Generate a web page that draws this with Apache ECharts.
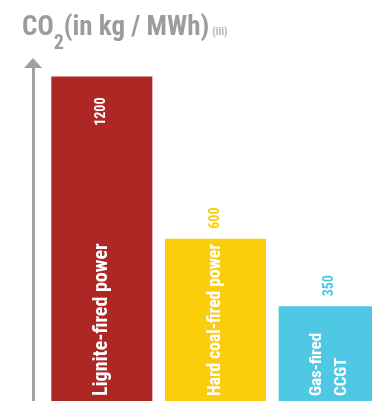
<!DOCTYPE html>
<html>
<head>
<meta charset="utf-8">
<script src="https://cdn.jsdelivr.net/npm/echarts@6/dist/echarts.min.js"></script>
<style>
html,body{margin:0;padding:0;background:#fff;}
#chart{width:372px;height:401px;}
</style>
</head>
<body>
<div id="chart"></div>
<script>
const categories = ['Lignite-fired power', 'Hard coal-fired power', 'Gas-fired\nCCGT'];
const values = [1200, 600, 350];

// styles
const barColors = ['#ad2724', '#fbce0b', '#4fc8e4'];
const nameFontSizes = [20, 17.5, 17];
const FONT = 'Roboto, "Roboto Condensed", sans-serif';
const WEIGHT = 'condensed bold';
const GREY = '#9b9c9e';

const chart = echarts.init(document.getElementById('chart'), null, {renderer: 'canvas'});

const barData = values.map((v, i) => ({
  value: v,
  itemStyle: { color: barColors[i] },
  label: { fontSize: nameFontSizes[i] }
}));

const valueData = values.map((v, i) => i === 0 ? {
  value: v,
  label: { position: 'insideTop', distance: 21, color: '#ffffff', align: 'right' }
} : {
  value: v,
  label: { position: 'top', distance: 10, color: barColors[i], align: 'left' }
});

chart.setOption({
  animation: false,
  title: {
    left: 22,
    top: 10,
    padding: 0,
    text: '{a|CO}{b|2}{a|(in kg / MWh)}{c|(iii)}',
    textStyle: {
      rich: {
        a: { fontFamily: FONT, fontWeight: WEIGHT, fontSize: 27, color: GREY, lineHeight: 32, height: 37, verticalAlign: 'top' },
        b: { fontFamily: FONT, fontWeight: WEIGHT, fontSize: 20, color: GREY, lineHeight: 20, verticalAlign: 'bottom' },
        c: { fontFamily: FONT, fontWeight: WEIGHT, fontSize: 11, color: '#b3b4b6', lineHeight: 44, verticalAlign: 'middle', padding: [0, 0, 0, 3] }
      }
    }
  },
  grid: { left: 45, top: 63, bottom: 0, right: -14, outerBoundsMode: 'none', containLabel: false },
  xAxis: {
    type: 'category',
    data: categories,
    show: false
  },
  yAxis: {
    type: 'value',
    min: 0,
    max: 1250,
    offset: 12,
    axisLine: {
      show: true,
      lineStyle: { color: '#9fa0a2', width: 3 },
      symbol: ['none', 'triangle'],
      symbolSize: [18, 10]
    },
    axisTick: { show: false },
    axisLabel: { show: false },
    splitLine: { show: false }
  },
  series: [
    {
      type: 'bar',
      data: barData,
      barWidth: 101,
      z: 2,
      label: {
        show: true,
        position: 'insideBottom',
        rotate: 90,
        align: 'left',
        verticalAlign: 'middle',
        distance: 5,
        color: '#ffffff',
        fontFamily: FONT,
        fontWeight: WEIGHT,
        fontSize: 20,
        lineHeight: 25,
        formatter: p => p.name
      }
    },
    {
      type: 'bar',
      data: valueData,
      barWidth: 101,
      barGap: '-100%',
      z: 3,
      itemStyle: { color: 'rgba(0,0,0,0)' },
      label: {
        show: true,
        rotate: 90,
        verticalAlign: 'middle',
        fontFamily: FONT,
        fontWeight: WEIGHT,
        fontSize: 14
      }
    }
  ]
});
</script>
</body>
</html>
